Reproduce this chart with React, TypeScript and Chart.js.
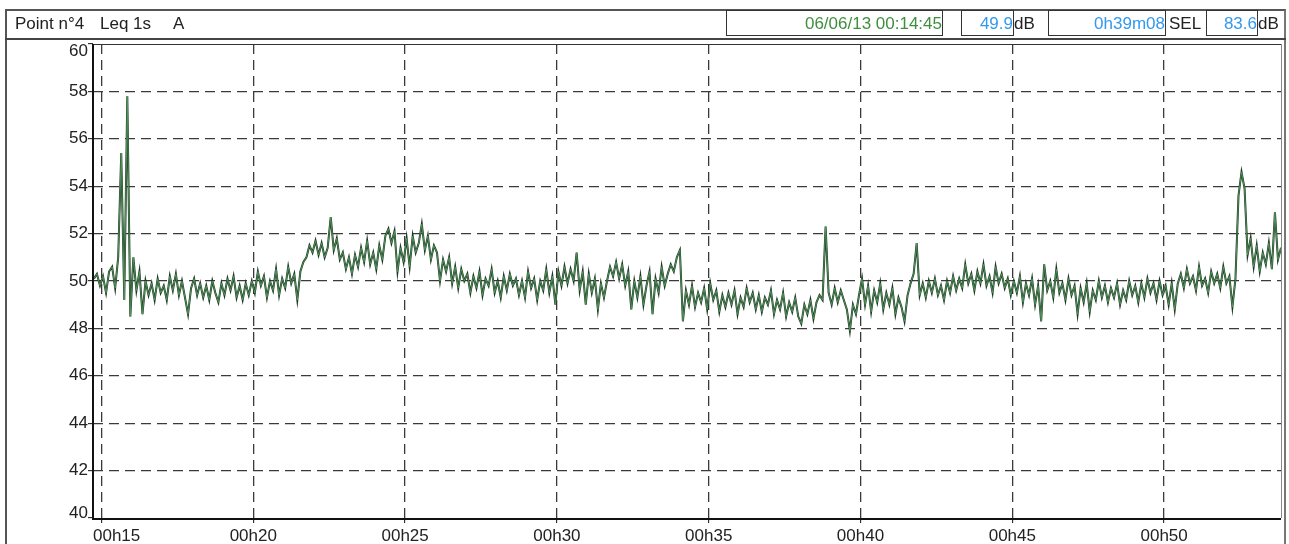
import React, { useEffect, useRef } from "react";
import { Chart, registerables } from "chart.js";

Chart.register(...registerables);

// Leq 1s A (dB), one value every 6 s starting at 00:14:45
const START_MIN = 14.75;
const STEP_MIN = 0.1;
const X_MIN = 14.72;
const X_MAX = 53.85;

const levels1 = [
  50.1, 50.3, 49.8, 50.2, 49.5, 50.4, 50.6, 49.7, 51.0, 55.4,
  49.2, 57.8, 48.5, 51.0, 49.6, 50.4, 48.6, 50.0, 49.4, 49.9,
  49.2, 50.1, 49.5, 49.8, 49.2, 50.2, 49.6, 50.3, 49.4, 50.0,
  49.3, 48.6, 49.7, 50.1, 49.4, 49.9, 49.3, 49.8, 49.2, 50.0,
  49.5, 49.1, 49.9, 49.4, 50.1, 49.6, 50.2, 49.3, 49.8, 49.2,
];
const levels2 = [
  49.9, 49.4, 50.0, 49.5, 50.4, 49.8, 50.2, 49.3, 50.0, 49.6,
  50.5, 49.4, 50.1, 49.7, 50.6, 49.9, 50.3, 49.2, 50.4, 50.8,
  51.0, 51.5, 51.2, 51.7, 51.1, 51.6, 51.0, 51.4, 52.7, 51.3,
  51.8, 50.9, 51.2, 50.5, 51.0, 50.3, 51.1, 50.6, 51.4, 50.8,
  51.7, 50.7, 51.2, 50.5, 51.5, 50.9, 51.9, 52.2, 51.6, 52.1,
];
const levels3 = [
  50.4, 51.4, 50.8, 51.8, 50.6, 51.9, 51.2, 51.6, 52.4, 51.3,
  51.9, 50.9, 51.5, 51.2, 50.0, 50.9, 50.4, 51.0, 49.9, 50.6,
  49.7, 50.5, 50.0, 50.3, 49.5, 50.2, 49.7, 50.4, 49.4, 50.1,
  49.8, 50.5, 49.5, 50.0, 49.3, 50.2, 49.6, 50.3, 49.8, 50.1,
  49.4, 50.0, 49.3, 50.4, 49.7, 50.1, 49.2, 50.0, 49.6, 50.5,
];
const levels4 = [
  49.5, 50.2, 49.0, 50.4, 49.8, 50.6, 49.9, 50.5, 50.0, 51.2,
  49.6, 50.4, 49.0, 50.3, 49.5, 50.1, 48.8, 49.9, 49.3, 50.0,
  50.6, 50.2, 50.8, 50.1, 50.7, 49.8, 50.4, 48.8, 50.0, 49.3,
  50.2, 49.0, 49.8, 50.4, 48.6, 50.1, 49.5, 50.6, 49.8, 50.3,
  50.7, 50.4, 51.0, 51.3, 48.3, 49.6, 49.0, 49.8, 48.9, 49.5,
];
const levels5 = [
  49.1, 49.7, 48.8, 49.9, 49.2, 49.6, 48.7, 49.4, 48.9, 49.5,
  49.0, 49.6, 48.6, 49.3, 48.9, 49.7, 49.1, 49.5, 48.8, 49.4,
  48.7, 49.3, 49.0, 49.6, 48.6, 49.2, 48.8, 49.5, 48.5, 49.1,
  48.7, 49.3, 48.5, 48.2, 49.0, 48.6, 49.2, 48.4, 49.1, 49.4,
  49.2, 52.3, 49.5, 49.0, 49.7, 49.1, 49.6, 49.2, 48.8, 47.9,
];
const levels6 = [
  49.0, 48.6, 49.4, 50.1, 49.0, 49.8, 48.7, 49.6, 49.1, 49.9,
  48.8, 49.5, 49.0, 49.7, 48.6, 49.3, 48.9, 48.3, 49.4, 49.9,
  50.3, 51.6, 49.4, 49.9, 49.3, 50.0, 49.5, 50.1, 49.4, 49.8,
  49.2, 50.0, 49.5, 50.2, 49.6, 50.1, 49.7, 50.7, 49.9, 50.3,
  49.6, 50.4, 49.9, 50.7, 49.8, 50.2, 49.5, 50.6, 49.9, 50.3,
];
const levels7 = [
  49.7, 50.1, 49.4, 50.0, 49.5, 50.2, 49.1, 49.9, 49.4, 50.1,
  49.0, 49.8, 48.3, 50.7, 49.6, 50.0, 49.3, 50.5, 49.5, 49.9,
  49.2, 50.1, 49.4, 49.8, 48.6, 49.7, 49.1, 49.9, 48.7, 49.6,
  49.2, 50.0, 49.3, 49.8, 49.1, 49.7, 49.3, 49.9, 49.0, 49.6,
  49.2, 50.0, 49.4, 49.8, 49.1, 49.9, 49.3, 50.1, 49.5, 49.9,
];
const levels8 = [
  49.2, 50.0, 49.4, 49.8, 49.0, 49.9, 48.8, 49.9, 50.3, 49.7,
  50.5, 49.9, 50.2, 49.6, 50.6, 49.8, 50.1, 49.5, 50.4, 49.9,
  50.3, 49.7, 50.6, 49.9, 50.2, 48.9, 50.1, 53.6, 54.6, 53.9,
  51.1, 51.8, 50.6, 51.5, 50.4, 51.2, 50.7, 51.6, 50.5, 52.9,
  50.9, 51.4,
];

const xTickValues = [15, 20, 25, 30, 35, 40, 45, 50];
const yTickValues = [40, 42, 44, 46, 48, 50, 52, 54, 56, 58, 60];

const FONT = '"Liberation Sans", Arial, sans-serif';

export default function App() {
  const ref = useRef<HTMLCanvasElement | null>(null);

  useEffect(() => {
    document.body.style.margin = "0";
    const all = [
      ...levels1, ...levels2, ...levels3, ...levels4,
      ...levels5, ...levels6, ...levels7, ...levels8,
    ];
    const pts = all.map((v, i) => ({ x: START_MIN + i * STEP_MIN, y: v }));

    const framePlugin = {
      id: "framePlugin",
      afterDraw(chart: any) {
        const { ctx, chartArea } = chart;
        const { left, right, top, bottom } = chartArea;
        const xs = chart.scales.x;
        const ys = chart.scales.y;
        ctx.save();
        ctx.setLineDash([]);
        ctx.strokeStyle = "#333";
        ctx.lineWidth = 1;
        ctx.beginPath();
        ctx.moveTo(left, top + 0.5);
        ctx.lineTo(right, top + 0.5);
        ctx.stroke();
        ctx.strokeStyle = "#888";
        ctx.beginPath();
        ctx.moveTo(right + 0.5, top);
        ctx.lineTo(right + 0.5, bottom);
        ctx.stroke();
        ctx.strokeStyle = "#111";
        ctx.lineWidth = 2;
        ctx.beginPath();
        ctx.moveTo(left, top);
        ctx.lineTo(left, bottom + 1);
        ctx.lineTo(right, bottom + 1);
        ctx.stroke();
        ctx.fillStyle = "#222";
        ctx.font = `17px ${FONT}`;
        ctx.textAlign = "right";
        ctx.textBaseline = "middle";
        for (const v of yTickValues) {
          const y = ys.getPixelForValue(v);
          const yc = Math.min(Math.max(y, top + 7), bottom - 5);
          ctx.fillText(String(v), left - 5, yc);
        }
        ctx.textAlign = "left";
        for (const v of xTickValues) {
          const x = xs.getPixelForValue(v);
          const txt = "00h" + String(v).padStart(2, "0");
          const w = ctx.measureText(txt).width;
          const lx = Math.max(x - w / 2, left);
          ctx.fillText(txt, lx, bottom + 18);
        }
        ctx.restore();
      },
    };

    const gridCommon = {
      lineWidth: 1.3,
      drawTicks: true,
      tickLength: 5,
      tickColor: "#111",
      tickWidth: 1,
    };

    const chart = new Chart(ref.current as HTMLCanvasElement, {
      type: "line",
      data: {
        datasets: [
          {
            data: pts,
            borderColor: "#55995f",
            borderWidth: 0.9,
            pointRadius: 0,
            tension: 0,
            order: 0,
          },
          {
            data: pts,
            borderColor: "#1f3a24",
            borderWidth: 2,
            pointRadius: 0,
            tension: 0,
            order: 1,
          },
        ],
      },
      options: {
        animation: false,
        responsive: false,
        parsing: false as any,
        layout: { padding: { top: 44, right: 8, left: 0, bottom: 0 } },
        plugins: { legend: { display: false }, tooltip: { enabled: false } },
        scales: {
          x: {
            type: "linear",
            min: X_MIN,
            max: X_MAX,
            afterBuildTicks: (s: any) => {
              s.ticks = xTickValues.map((v) => ({ value: v }));
            },
            afterFit: (s: any) => {
              s.height = 26;
            },
            ticks: { display: false },
            grid: { ...gridCommon, color: "#3a3a3a" },
            border: { display: false, dash: [10, 6] },
          },
          y: {
            type: "linear",
            min: 40,
            max: 60,
            afterBuildTicks: (s: any) => {
              s.ticks = yTickValues.map((v) => ({ value: v }));
            },
            afterFit: (s: any) => {
              s.width = 93;
            },
            ticks: { display: false },
            grid: {
              ...gridCommon,
              color: (c: any) =>
                c.tick && (c.tick.value === 40 || c.tick.value === 60)
                  ? "rgba(0,0,0,0)"
                  : "#3a3a3a",
            },
            border: { display: false, dash: [10, 6] },
          },
        },
      },
      plugins: [framePlugin],
    });
    return () => chart.destroy();
  }, []);

  const boxStyle = (left: number, width: number, color: string): React.CSSProperties => ({
    position: "absolute",
    left,
    top: 10,
    width,
    height: 26,
    boxSizing: "border-box",
    border: "1px solid #333",
    color,
    textAlign: "right",
    lineHeight: "26px",
    fontSize: 17,
    fontFamily: FONT,
    whiteSpace: "nowrap",
    overflow: "visible",
    paddingRight: 0,
  });
  const plainStyle = (left: number): React.CSSProperties => ({
    position: "absolute",
    left,
    top: 11,
    lineHeight: "26px",
    fontSize: 17,
    fontFamily: FONT,
    color: "#222",
    whiteSpace: "pre",
  });

  return (
    <div style={{ position: "relative", width: 1289, height: 544, background: "#fff", overflow: "hidden" }}>
      <canvas ref={ref} width={1289} height={544} style={{ position: "absolute", left: 0, top: 0 }} />
      <div
        style={{
          position: "absolute",
          left: 5,
          top: 9,
          width: 1281,
          height: 560,
          boxSizing: "border-box",
          borderLeft: "2px solid #555",
          borderTop: "2px solid #555",
          borderRight: "2px solid #777",
          pointerEvents: "none",
        }}
      />
      <div style={{ position: "absolute", left: 5, top: 38, width: 1281, borderTop: "2px solid #444" }} />
      <div style={plainStyle(15)}>Point n°4</div>
      <div style={plainStyle(100)}>Leq 1s</div>
      <div style={plainStyle(173)}>A</div>
      <div style={boxStyle(726, 217, "#3f8f3f")}>06/06/13 00:14:45</div>
      <div style={boxStyle(961, 53, "#3399ee")}>49.9</div>
      <div style={plainStyle(1014)}>dB</div>
      <div style={boxStyle(1048, 118, "#3399ee")}>0h39m08</div>
      <div style={plainStyle(1169)}>SEL</div>
      <div style={boxStyle(1206, 52, "#3399ee")}>83.6</div>
      <div style={plainStyle(1258)}>dB</div>
    </div>
  );
}
